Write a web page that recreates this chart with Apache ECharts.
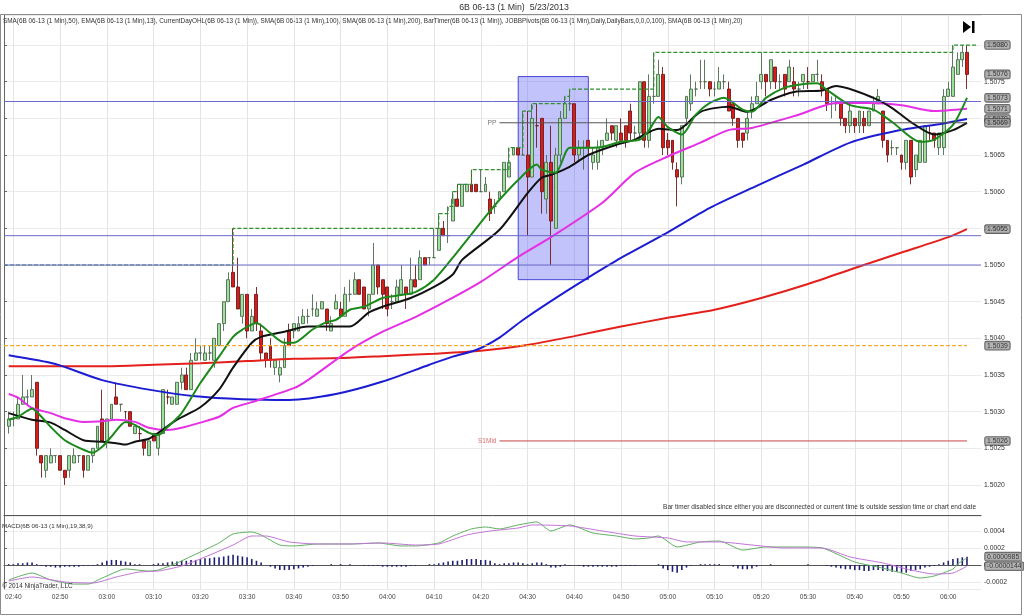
<!DOCTYPE html>
<html><head><meta charset="utf-8">
<script src="https://cdn.jsdelivr.net/npm/echarts@6/dist/echarts.min.js"></script>
<style>html,body{margin:0;padding:0;background:#fff}#c{width:1024px;height:616px}</style>
</head><body><div id="c"></div>
<script>
// ---------- categories (1-minute bars) ----------
function hm(m){return String(Math.floor(m/60)).padStart(2,'0')+':'+String(m%60).padStart(2,'0');}
const times=[];for(let m=158;m<158+210;m++)times.push(hm(m));          // 02:38 .. 06:07 axis slots
const barTimes=[];for(let m=159;m<=364;m++)barTimes.push(hm(m));        // 02:39 .. 06:04 bars
const t2i=t=>times.indexOf(t);

// ---------- 6B 06-13 1-minute OHLC ----------
const opens=[1.5028,1.5029,1.5029,1.5031,1.5032,1.5032,1.5034,1.5024,1.5022,1.5023,
1.5024,1.5024,1.5022,1.5022,1.5023,1.5024,1.5024,1.5022,1.5024,1.5025,
1.5029,1.5026,1.5029,1.5032,1.5031,1.5030,1.5030,1.5027,1.5027,1.5026,
1.5024,1.5027,1.5025,1.5027,1.5032,1.5031,1.5031,1.5034,1.5035,1.5033,
1.5037,1.5038,1.5037,1.5038,1.5037,1.5039,1.5042,1.5045,1.5049,1.5047,
1.5043,1.5046,1.5041,1.5046,1.5041,1.5038,1.5039,1.5036,1.5035,1.5036,
1.5041,1.5041,1.5041,1.5042,1.5043,1.5044,1.5043,1.5044,1.5044,1.5041,
1.5044,1.5044,1.5043,1.5046,1.5046,1.5048,1.5047,1.5044,1.5046,1.5050,
1.5048,1.5047,1.5045,1.5045,1.5046,1.5047,1.5046,1.5048,1.5048,1.5051,
1.5051,1.5051,1.5052,1.5055,1.5054,1.5056,1.5059,1.5058,1.5060,1.5061,
1.5061,1.5060,1.5060,1.5059,1.5058,1.5059,1.5060,1.5062,1.5065,1.5066,
1.5065,1.5065,1.5062,1.5069,1.5070,1.5059,1.5064,1.5055,1.5065,1.5070,
1.5072,1.5072,1.5065,1.5066,1.5067,1.5064,1.5064,1.5066,1.5067,1.5069,
1.5067,1.5068,1.5069,1.5071,1.5068,1.5068,1.5075,1.5067,1.5073,1.5073,
1.5076,1.5067,1.5067,1.5063,1.5062,1.5070,1.5072,1.5074,1.5075,1.5075,
1.5075,1.5074,1.5074,1.5075,1.5074,1.5072,1.5070,1.5068,1.5068,1.5071,
1.5072,1.5075,1.5076,1.5075,1.5077,1.5075,1.5076,1.5075,1.5075,1.5074,
1.5075,1.5075,1.5075,1.5076,1.5075,1.5074,1.5072,1.5072,1.5072,1.5070,
1.5069,1.5070,1.5069,1.5070,1.5069,1.5071,1.5072,1.5071,1.5067,1.5066,
1.5066,1.5065,1.5064,1.5067,1.5063,1.5064,1.5064,1.5068,1.5068,1.5066,
1.5066,1.5073,1.5073,1.5076,1.5078,1.5079];
const closes=[1.5029,1.5029,1.5031,1.5032,1.5032,1.5033,1.5025,1.5023,1.5024,1.5024,
1.5024,1.5022,1.5021,1.5024,1.5024,1.5024,1.5022,1.5024,1.5025,1.5028,
1.5026,1.5029,1.5031,1.5031,1.5031,1.5030,1.5028,1.5028,1.5027,1.5025,
1.5026,1.5026,1.5027,1.5033,1.5032,1.5032,1.5034,1.5035,1.5033,1.5037,
1.5038,1.5038,1.5038,1.5038,1.5040,1.5042,1.5045,1.5048,1.5047,1.5044,
1.5046,1.5041,1.5043,1.5042,1.5038,1.5037,1.5037,1.5037,1.5036,1.5039,
1.5039,1.5042,1.5042,1.5043,1.5043,1.5044,1.5044,1.5045,1.5042,1.5042,
1.5045,1.5043,1.5046,1.5046,1.5048,1.5046,1.5044,1.5046,1.5050,1.5047,
1.5046,1.5044,1.5045,1.5047,1.5048,1.5046,1.5048,1.5047,1.5051,1.5050,
1.5051,1.5051,1.5055,1.5054,1.5054,1.5059,1.5058,1.5061,1.5061,1.5060,
1.5060,1.5060,1.5061,1.5057,1.5058,1.5060,1.5064,1.5064,1.5066,1.5065,
1.5065,1.5062,1.5070,1.5069,1.5060,1.5064,1.5056,1.5065,1.5070,1.5072,
1.5072,1.5065,1.5066,1.5066,1.5066,1.5065,1.5066,1.5067,1.5068,1.5068,
1.5069,1.5067,1.5067,1.5068,1.5068,1.5075,1.5067,1.5073,1.5073,1.5076,
1.5066,1.5066,1.5064,1.5062,1.5069,1.5073,1.5074,1.5074,1.5075,1.5075,
1.5074,1.5074,1.5075,1.5075,1.5071,1.5070,1.5067,1.5067,1.5070,1.5072,
1.5073,1.5076,1.5075,1.5078,1.5075,1.5075,1.5074,1.5077,1.5074,1.5074,
1.5076,1.5075,1.5076,1.5076,1.5074,1.5072,1.5072,1.5072,1.5070,1.5069,
1.5071,1.5069,1.5071,1.5069,1.5071,1.5072,1.5073,1.5067,1.5065,1.5066,
1.5066,1.5064,1.5067,1.5062,1.5065,1.5067,1.5069,1.5068,1.5067,1.5068,
1.5073,1.5074,1.5077,1.5078,1.5079,1.5076];
const highs=[1.5030,1.5030,1.5032,1.5035,1.5033,1.5035,1.5034,1.5024,1.5024,1.5025,
1.5024,1.5024,1.5022,1.5024,1.5025,1.5024,1.5024,1.5024,1.5025,1.5028,
1.5033,1.5029,1.5031,1.5034,1.5031,1.5030,1.5030,1.5028,1.5028,1.5026,
1.5026,1.5027,1.5027,1.5033,1.5033,1.5032,1.5034,1.5036,1.5036,1.5038,
1.5040,1.5039,1.5039,1.5039,1.5040,1.5042,1.5045,1.5049,1.5055,1.5051,
1.5046,1.5046,1.5044,1.5047,1.5042,1.5038,1.5040,1.5037,1.5037,1.5040,
1.5042,1.5042,1.5043,1.5044,1.5044,1.5046,1.5045,1.5045,1.5044,1.5043,
1.5046,1.5045,1.5047,1.5048,1.5049,1.5048,1.5047,1.5046,1.5053,1.5050,
1.5048,1.5047,1.5046,1.5048,1.5050,1.5047,1.5051,1.5050,1.5052,1.5051,
1.5051,1.5055,1.5057,1.5056,1.5058,1.5060,1.5061,1.5061,1.5061,1.5063,
1.5061,1.5063,1.5062,1.5060,1.5059,1.5060,1.5064,1.5066,1.5066,1.5066,
1.5071,1.5071,1.5072,1.5072,1.5070,1.5065,1.5069,1.5066,1.5071,1.5073,
1.5074,1.5072,1.5067,1.5067,1.5067,1.5066,1.5067,1.5067,1.5070,1.5069,
1.5069,1.5070,1.5069,1.5072,1.5069,1.5075,1.5075,1.5076,1.5079,1.5078,
1.5077,1.5068,1.5067,1.5064,1.5069,1.5073,1.5076,1.5075,1.5078,1.5078,
1.5075,1.5075,1.5077,1.5076,1.5075,1.5072,1.5070,1.5068,1.5071,1.5073,
1.5075,1.5079,1.5076,1.5078,1.5077,1.5076,1.5076,1.5078,1.5077,1.5075,
1.5076,1.5077,1.5076,1.5078,1.5076,1.5074,1.5073,1.5073,1.5072,1.5070,
1.5072,1.5070,1.5071,1.5071,1.5071,1.5073,1.5074,1.5071,1.5067,1.5067,
1.5066,1.5065,1.5067,1.5067,1.5065,1.5067,1.5069,1.5069,1.5068,1.5068,
1.5074,1.5075,1.5080,1.5079,1.5080,1.5080];
const lows=[1.5027,1.5028,1.5029,1.5031,1.5031,1.5032,1.5024,1.5021,1.5021,1.5023,
1.5023,1.5022,1.5020,1.5021,1.5023,1.5023,1.5021,1.5022,1.5023,1.5025,
1.5026,1.5025,1.5029,1.5031,1.5030,1.5029,1.5028,1.5027,1.5026,1.5024,
1.5024,1.5026,1.5024,1.5027,1.5031,1.5031,1.5031,1.5033,1.5033,1.5033,
1.5037,1.5037,1.5037,1.5037,1.5036,1.5039,1.5041,1.5045,1.5047,1.5044,
1.5042,1.5040,1.5041,1.5041,1.5037,1.5036,1.5036,1.5035,1.5034,1.5036,
1.5039,1.5040,1.5041,1.5042,1.5042,1.5043,1.5043,1.5044,1.5041,1.5041,
1.5044,1.5043,1.5043,1.5045,1.5046,1.5046,1.5044,1.5043,1.5046,1.5046,
1.5044,1.5043,1.5044,1.5045,1.5046,1.5044,1.5046,1.5047,1.5048,1.5050,
1.5050,1.5051,1.5052,1.5054,1.5053,1.5056,1.5058,1.5058,1.5060,1.5060,
1.5060,1.5060,1.5060,1.5056,1.5057,1.5059,1.5060,1.5062,1.5065,1.5065,
1.5065,1.5054,1.5062,1.5066,1.5057,1.5057,1.5050,1.5055,1.5064,1.5070,
1.5071,1.5064,1.5064,1.5063,1.5065,1.5063,1.5063,1.5065,1.5067,1.5067,
1.5066,1.5067,1.5066,1.5067,1.5067,1.5067,1.5066,1.5066,1.5072,1.5073,
1.5065,1.5065,1.5063,1.5058,1.5061,1.5069,1.5071,1.5073,1.5074,1.5074,
1.5073,1.5073,1.5074,1.5074,1.5071,1.5069,1.5066,1.5066,1.5067,1.5070,
1.5072,1.5074,1.5073,1.5074,1.5074,1.5074,1.5073,1.5075,1.5073,1.5073,
1.5074,1.5074,1.5075,1.5075,1.5073,1.5071,1.5070,1.5071,1.5069,1.5068,
1.5068,1.5068,1.5068,1.5068,1.5069,1.5071,1.5072,1.5066,1.5064,1.5065,
1.5065,1.5063,1.5063,1.5061,1.5062,1.5064,1.5064,1.5067,1.5066,1.5065,
1.5065,1.5073,1.5073,1.5076,1.5077,1.5074];

// ---------- indicators: [time, value] ----------
const sma200=[['02:39',1.50362],['02:50',1.50362],['03:00',1.50362],['03:10',1.50364],['03:20',1.50366],['03:30',1.50369],['03:40',1.50372],['03:50',1.50373],['04:00',1.50376],['04:10',1.50379],['04:20',1.50383],['04:30',1.50391],['04:40',1.50403],['04:50',1.50416],['05:00',1.50428],['05:10',1.50439],['05:20',1.50455],['05:30',1.50474],['05:40',1.50496],['05:50',1.50517],['06:00',1.50538],['06:04',1.50549]];
const sma100=[['02:39',1.50377],['02:49',1.50365],['02:59',1.50343],['03:09',1.50330],['03:19',1.50321],['03:29',1.50317],['03:39',1.50316],['03:49',1.50324],['03:59',1.50341],['04:09',1.50364],['04:14',1.50375],['04:19',1.50384],['04:24',1.50401],['04:29',1.50425],['04:39',1.50467],['04:49',1.50506],['04:59',1.50541],['05:09',1.50578],['05:19',1.50608],['05:29',1.50637],['05:39',1.50667],['05:49',1.50683],['05:59',1.50693],['06:04',1.50699]];
const sma50=[['02:39',1.50324],['02:41',1.50319],['02:44',1.50305],['02:48',1.50298],['02:51',1.50291],['02:55',1.50286],['02:59',1.50287],['03:02',1.50289],['03:06',1.50286],['03:09',1.50278],['03:13',1.50275],['03:16',1.50278],['03:20',1.50285],['03:24',1.50293],['03:27',1.50305],['03:31',1.50313],['03:40',1.50332],['03:43',1.50343],['03:52',1.50384],['03:59',1.50409],['04:06',1.50429],['04:13',1.50452],['04:20',1.50477],['04:28',1.50511],['04:35',1.50538],['04:46',1.50585],['04:53',1.50626],['05:00',1.50648],['05:07',1.50667],['05:13',1.50684],['05:18',1.50687],['05:28',1.50705],['05:36',1.50721],['05:43',1.50721],['05:50',1.50718],['05:57',1.50710],['06:04',1.50713]];
const sma20=[['02:39',1.50298],['02:44',1.50289],['02:48',1.50285],['02:51',1.50275],['02:55',1.50261],['02:59',1.50259],['03:02',1.50257],['03:04',1.50255],['03:06',1.50259],['03:09',1.50263],['03:11',1.50271],['03:15',1.50289],['03:20',1.50306],['03:24',1.50330],['03:27',1.50360],['03:31',1.50394],['03:33',1.50402],['03:38',1.50409],['03:43',1.50416],['03:47',1.50416],['03:52',1.50416],['03:56',1.50435],['03:59',1.50443],['04:05',1.50455],['04:10',1.50470],['04:14',1.50487],['04:16',1.50507],['04:24',1.50548],['04:30',1.50598],['04:33',1.50619],['04:35',1.50623],['04:39',1.50634],['04:43',1.50650],['04:49',1.50664],['04:53',1.50671],['04:58',1.50686],['05:02',1.50684],['05:07',1.50709],['05:13',1.50716],['05:17',1.50709],['05:22',1.50725],['05:27',1.50736],['05:33',1.50738],['05:36',1.50744],['05:44',1.50728],['05:48',1.50714],['05:52',1.50695],['05:57',1.50678],['06:01',1.50684],['06:04',1.50694]];
const ema13=[['02:39',1.50289],['02:41',1.50293],['02:44',1.50304],['02:46',1.50293],['02:48',1.50279],['02:51',1.50261],['02:55',1.50248],['02:57',1.50244],['02:59',1.50252],['03:01',1.50266],['03:04',1.50286],['03:06',1.50282],['03:09',1.50271],['03:11',1.50268],['03:13',1.50279],['03:16',1.50298],['03:20',1.50339],['03:24',1.50375],['03:27',1.50402],['03:29',1.50412],['03:32',1.50421],['03:35',1.50407],['03:38',1.50394],['03:40',1.50394],['03:44',1.50412],['03:47',1.50422],['03:49',1.50425],['03:52',1.50439],['03:55',1.50443],['03:59',1.50455],['04:03',1.50459],['04:06',1.50463],['04:10',1.50480],['04:14',1.50510],['04:21',1.50566],['04:24',1.50589],['04:28',1.50616],['04:32',1.50637],['04:33',1.50630],['04:36',1.50626],['04:39',1.50660],['04:43',1.50660],['04:46',1.50661],['04:50',1.50668],['04:54',1.50671],['04:56',1.50684],['04:58',1.50702],['05:00',1.50688],['05:03',1.50678],['05:06',1.50705],['05:09',1.50721],['05:12',1.50728],['05:16',1.50712],['05:18',1.50709],['05:21',1.50728],['05:25',1.50742],['05:28',1.50746],['05:32',1.50748],['05:34',1.50739],['05:39',1.50718],['05:44',1.50712],['05:48',1.50695],['05:54',1.50668],['05:57',1.50671],['06:01',1.50691],['06:04',1.50728]];
const dayHigh=[['02:38',1.5050],['03:27',1.5055],['04:11',1.5057],['04:13',1.5058],['04:14',1.5060],['04:15',1.5061],['04:18',1.5063],['04:26',1.5066],['04:29',1.5071],['04:31',1.5072],['04:38',1.5073],['04:39',1.5074],['04:57',1.5079],['06:01',1.5080],['06:06',1.5080]];
const dayOpen=1.5039, pivotPP=1.50694, pivotS1Mid=1.5026, pivotStart='04:24', pivotEnd='06:04';
const hLines=[1.50723,1.5054,1.5050];
const box={t0:'04:28',t1:'04:43',p0:1.50757,p1:1.50480};
const priceTags=[1.5080,1.5076,1.50728,1.50713,1.50699,1.50694,1.50549,1.5039,1.5026];

// ---------- MACD(19,38,9) ----------
const macdHist=[1e-5,1e-5,2e-5,2e-5,3e-5,3e-5,1e-5,
-1e-5,-2e-5,-2e-5,-3e-5,-3e-5,-2e-5,-2e-5,-2e-5,-2e-5,-1e-5,-1e-5,-1e-5,
1e-5,3e-5,5e-5,6e-5,6e-5,5e-5,
4e-5,3e-5,1e-5,1e-5,0,0,
1e-5,2e-5,2e-5,3e-5,4e-5,4e-5,5e-5,5e-5,6e-5,6e-5,
7e-5,8e-5,8e-5,9e-5,9e-5,10e-5,11e-5,12e-5,11e-5,10e-5,
9e-5,7e-5,5e-5,3e-5,0,
-2e-5,-4e-5,-6e-5,-6e-5,-6e-5,-5e-5,-4e-5,-3e-5,-2e-5,-1e-5,
0,0,0,1e-5,0,1e-5,0,1e-5,0,0,-1e-5,-1e-5,-1e-5,-1e-5,-2e-5,-2e-5,-2e-5,-2e-5,-2e-5,-2e-5,-1e-5,-1e-5,
0,0,1e-5,1e-5,2e-5,3e-5,4e-5,5e-5,
5e-5,6e-5,7e-5,7e-5,7e-5,6e-5,6e-5,5e-5,2e-5,1e-5,
2e-5,2e-5,3e-5,3e-5,2e-5,1e-5,2e-5,3e-5,3e-5,1e-5,
-3e-5,-3e-5,-2e-5,1e-5,-1e-5,0,
-1e-5,-2e-5,-2e-5,-2e-5,-2e-5,-2e-5,-2e-5,-2e-5,-2e-5,-1e-5,-1e-5,-1e-5,-1e-5,0,0,
0,0,1e-5,-4e-5,-6e-5,-8e-5,-9e-5,-6e-5,-3e-5,-1e-5,
0,1e-5,1e-5,1e-5,1e-5,1e-5,0,0,
-2e-5,-4e-5,-5e-5,-5e-5,-4e-5,-2e-5,
0,0,1e-5,0,0,0,0,0,0,0,1e-5,0,0,0,
-1e-5,-2e-5,-3e-5,-4e-5,-5e-5,-5e-5,-6e-5,-6e-5,-7e-5,-7e-5,-6e-5,-6e-5,-7e-5,-7e-5,-8e-5,-8e-5,-9e-5,-9e-5,
-7e-5,-6e-5,-5e-5,-3e-5,-2e-5,-1e-5,
1e-5,3e-5,5e-5,7e-5,8e-5,9e-5,9.85e-5];
const macdLine=[['02:39',-0.000176],['02:44',-0.000094],['02:48',-0.000176],['02:53',-0.000224],['02:56',-0.000224],['02:59',-0.000153],['03:04',-0.000047],['03:09',-0.000071],['03:11',-0.000059],['03:15',0.000024],['03:20',0.000153],['03:24',0.000259],['03:27',0.000365],['03:31',0.000388],['03:33',0.000353],['03:37',0.000235],['03:40',0.000224],['03:45',0.000247],['03:52',0.000247],['03:58',0.000259],['04:03',0.000224],['04:06',0.000224],['04:11',0.000259],['04:14',0.000341],['04:18',0.000424],['04:21',0.000447],['04:24',0.000424],['04:28',0.000471],['04:32',0.000506],['04:35',0.000400],['04:39',0.000471],['04:44',0.000376],['04:49',0.000341],['04:53',0.000306],['04:56',0.000318],['04:58',0.000341],['05:02',0.000212],['05:07',0.000271],['05:11',0.000282],['05:16',0.000176],['05:21',0.000212],['05:28',0.000212],['05:33',0.000200],['05:40',0.000035],['05:45',-0.000024],['05:50',-0.000094],['05:54',-0.000153],['05:57',-0.000129],['06:01',-0.000047],['06:02',0.000012],['06:04',0.000084]];
const macdAvg=[['02:39',-0.000188],['02:44',-0.000141],['02:51',-0.000200],['02:57',-0.000212],['03:02',-0.000141],['03:07',-0.000082],['03:11',-0.000071],['03:16',-0.000012],['03:21',0.000094],['03:27',0.000235],['03:31',0.000341],['03:34',0.000341],['03:39',0.000271],['03:45',0.000247],['03:52',0.000247],['03:59',0.000259],['04:06',0.000235],['04:11',0.000247],['04:17',0.000353],['04:22',0.000400],['04:28',0.000435],['04:31',0.000471],['04:39',0.000459],['04:46',0.000400],['04:53',0.000341],['05:00',0.000318],['05:04',0.000271],['05:11',0.000271],['05:18',0.000235],['05:25',0.000200],['05:33',0.000200],['05:39',0.000094],['05:46',0.000024],['05:52',-0.000059],['05:57',-0.000106],['06:01',-0.000094],['06:04',-0.0000144]];
const macdTags=[0.0000985,-0.0000144];

// ---------- build ----------
const LAST=times.length-1;
const candleData=times.map(t=>{const k=barTimes.indexOf(t);return k<0?'-':[opens[k],closes[k],lows[k],highs[k]];});
const histData=times.map(t=>{const k=barTimes.indexOf(t);return k<0?'-':macdHist[k];});
const pts=a=>a.map(([t,v])=>[t2i(t),v]);
const tenMin=(i,v)=>v.slice(-1)==='0';
const FONT='Liberation Sans, Arial, sans-serif';
const maLine=(name,data,color)=>({name,type:'line',xAxisIndex:1,yAxisIndex:0,data:pts(data),symbol:'none',smooth:0.25,
  color,lineStyle:{color,width:2},z:4,silent:true});
// straight reference segment from index a to b at value v
const seg=(name,xi,yi,a,b,v,color,width,type,z)=>({name,type:'line',xAxisIndex:xi,yAxisIndex:yi,data:[[a,v],[b,v]],symbol:'none',
  color,lineStyle:{color,width,type},z:z||5,silent:true,clip:false});
// text attached to a data point
const pointLabel=(name,xi,yi,items,label,z)=>({name,type:'scatter',xAxisIndex:xi,yAxisIndex:yi,symbol:'rect',symbolSize:0.1,clip:false,silent:true,
  z:z||8,itemStyle:{color:'rgba(0,0,0,0)'},label,data:items.map(([x,v,n])=>({name:n,value:[x,v]}))});
const tagStyle={show:true,position:'right',distance:4,formatter:'{b}',fontSize:6.8,fontFamily:FONT,color:'#111',
  backgroundColor:'#a0a0a0',borderColor:'#3a3a3a',borderWidth:0.8,borderRadius:1.5,padding:[1,2,0,2]};

const option={
  animation:false,
  backgroundColor:'#ffffff',
  grid:[{left:4,right:43,top:15,height:500},{left:4,right:43,top:516,height:73}],
  xAxis:[
    {type:'category',gridIndex:0,data:times,boundaryGap:false,axisLine:{show:true,lineStyle:{color:'#555'}},axisTick:{show:false},
     axisLabel:{show:false},splitLine:{show:true,interval:tenMin,lineStyle:{color:'#e4e4e4'}}},
    {type:'value',gridIndex:0,min:0,max:LAST,show:false},
    {type:'category',gridIndex:1,data:times,boundaryGap:false,axisLine:{show:true,lineStyle:{color:'#555'}},axisTick:{show:false},
     axisLabel:{interval:tenMin,fontSize:6.6,fontFamily:FONT,color:'#444',margin:5},splitLine:{show:true,interval:tenMin,lineStyle:{color:'#e4e4e4'}}},
    {type:'value',gridIndex:1,min:0,max:LAST,show:false}
  ],
  yAxis:[
    {type:'value',gridIndex:0,position:'right',min:1.50159,max:1.50841,splitNumber:14,
     axisLine:{show:true,lineStyle:{color:'#666'}},axisTick:{show:true,length:3,lineStyle:{color:'#666'}},
     axisLabel:{fontSize:6.8,fontFamily:FONT,color:'#333',margin:3,formatter:v=>v.toFixed(4),showMinLabel:false,showMaxLabel:false},
     splitLine:{show:true,lineStyle:{color:'#ebebeb'}}},
    {type:'value',gridIndex:1,position:'right',min:-0.000282,max:0.000576,splitNumber:4,
     axisLine:{show:true,lineStyle:{color:'#666'}},axisTick:{show:true,length:3,lineStyle:{color:'#666'}},
     axisLabel:{fontSize:6.8,fontFamily:FONT,color:'#333',margin:3,formatter:v=>Math.abs(v)<1e-9?'0':v.toFixed(4),showMinLabel:false,showMaxLabel:false},
     splitLine:{show:true,lineStyle:{color:'#ebebeb'}}}
  ],
  series:[
    {name:'6B 06-13',type:'candlestick',xAxisIndex:0,yAxisIndex:0,data:candleData,barWidth:3.4,z:2,silent:true,
     itemStyle:{color:'#9edf9e',color0:'#d81c1c',borderColor:'#4e6a50',borderColor0:'#6e1a1a',borderWidth:0.9}},
    {name:'box',type:'line',xAxisIndex:1,yAxisIndex:0,data:[],z:3,silent:true,
     markArea:{silent:true,itemStyle:{color:'rgba(112,112,245,0.42)',borderColor:'#4646d8',borderWidth:1},
       data:[[{coord:[t2i(box.t0),box.p0]},{coord:[t2i(box.t1),box.p1]}]]}},
    maLine('SMA200',sma200,'#e3201c'),
    maLine('SMA100',sma100,'#1c1cd2'),
    maLine('SMA50',sma50,'#e52fe5'),
    maLine('SMA20',sma20,'#111111'),
    maLine('EMA13',ema13,'#1b8a1b'),
    {name:'DayHigh',type:'line',xAxisIndex:1,yAxisIndex:0,data:pts(dayHigh),step:'end',symbol:'none',z:4,silent:true,
     color:'#2e8f2e',lineStyle:{color:'#2e8f2e',width:1.2,type:[4,2]}},
    ...hLines.map((v,k)=>seg('hline'+k,1,0,0,LAST,v,'#6a6acc',1,'solid')),
    seg('open',1,0,0,t2i(pivotEnd),dayOpen,'#f7ac2e',1.2,[4,2]),
    seg('PP',1,0,t2i(pivotStart),t2i(pivotEnd),pivotPP,'#555555',1,'solid'),
    seg('S1Mid',1,0,t2i(pivotStart),t2i(pivotEnd),pivotS1Mid,'#c84444',1,'solid'),
    pointLabel('PPlabel',1,0,[[t2i(pivotStart),pivotPP,'PP']],{show:true,position:'left',distance:3,formatter:'{b}',fontSize:6.8,fontFamily:FONT,color:'#555'}),
    pointLabel('S1label',1,0,[[t2i(pivotStart),pivotS1Mid,'S1Mid']],{show:true,position:'left',distance:3,formatter:'{b}',fontSize:6.5,fontFamily:FONT,color:'#d04848'}),
    pointLabel('tags',1,0,priceTags.map(v=>[LAST,v,v.toFixed(4)]),tagStyle,9),
    {name:'Diff',type:'bar',xAxisIndex:2,yAxisIndex:1,data:histData,barWidth:1.6,color:'#1f1f72',itemStyle:{color:'#1f1f72'},z:2,silent:true},
    {name:'Macd',type:'line',xAxisIndex:3,yAxisIndex:1,data:pts(macdLine),symbol:'none',smooth:0.2,color:'#5faf5f',lineStyle:{color:'#5faf5f',width:1},z:3,silent:true},
    {name:'Avg',type:'line',xAxisIndex:3,yAxisIndex:1,data:pts(macdAvg),symbol:'none',smooth:0.2,color:'#c274d8',lineStyle:{color:'#c274d8',width:1},z:3,silent:true},
    pointLabel('macdTags',3,1,macdTags.map(v=>[LAST,v,v.toFixed(7)]),tagStyle,9)
  ],
  graphic:[
    {type:'rect',z:100,silent:true,shape:{x:0.5,y:14.5,width:1021,height:600},style:{fill:'none',stroke:'#8c8c8c',lineWidth:1}},
    {type:'text',z:100,silent:true,style:{x:514,y:8,text:'6B 06-13 (1 Min)  5/23/2013',align:'center',verticalAlign:'middle',fontSize:8.8,fontFamily:FONT,fill:'#333'}},
    {type:'text',z:100,silent:true,style:{x:3,y:21,text:'SMA(6B 06-13 (1 Min),50), EMA(6B 06-13 (1 Min),13), CurrentDayOHL(6B 06-13 (1 Min)), SMA(6B 06-13 (1 Min),100), SMA(6B 06-13 (1 Min),200), BarTimer(6B 06-13 (1 Min)), JOBBPivots(6B 06-13 (1 Min),Daily,DailyBars,0,0,0,100), SMA(6B 06-13 (1 Min),20)',
      align:'left',verticalAlign:'middle',fontSize:6.4,fontFamily:FONT,fill:'#333'}},
    {type:'polygon',z:100,silent:true,shape:{points:[[963,21],[971,27],[963,33]]},style:{fill:'#000'}},
    {type:'rect',z:100,silent:true,shape:{x:972,y:21,width:2.5,height:12},style:{fill:'#000'}},
    {type:'text',z:100,silent:true,style:{x:976,y:507,text:'Bar timer disabled since either you are disconnected or current time is outside session time or chart end date',
      align:'right',verticalAlign:'middle',fontSize:6.5,fontFamily:FONT,fill:'#333'}},
    {type:'text',z:100,silent:true,style:{x:2,y:526,text:'MACD(6B 06-13 (1 Min),19,38,9)',align:'left',verticalAlign:'middle',fontSize:6.2,fontFamily:FONT,fill:'#333'}},
    {type:'text',z:100,silent:true,style:{x:2,y:586,text:'\u00a9 2014 NinjaTrader, LLC',align:'left',verticalAlign:'middle',fontSize:6.4,fontFamily:FONT,fill:'#333'}}
  ]
};
const chart=echarts.init(document.getElementById('c'),null,{renderer:'canvas',width:1024,height:616});
chart.setOption(option);
</script></body></html>
